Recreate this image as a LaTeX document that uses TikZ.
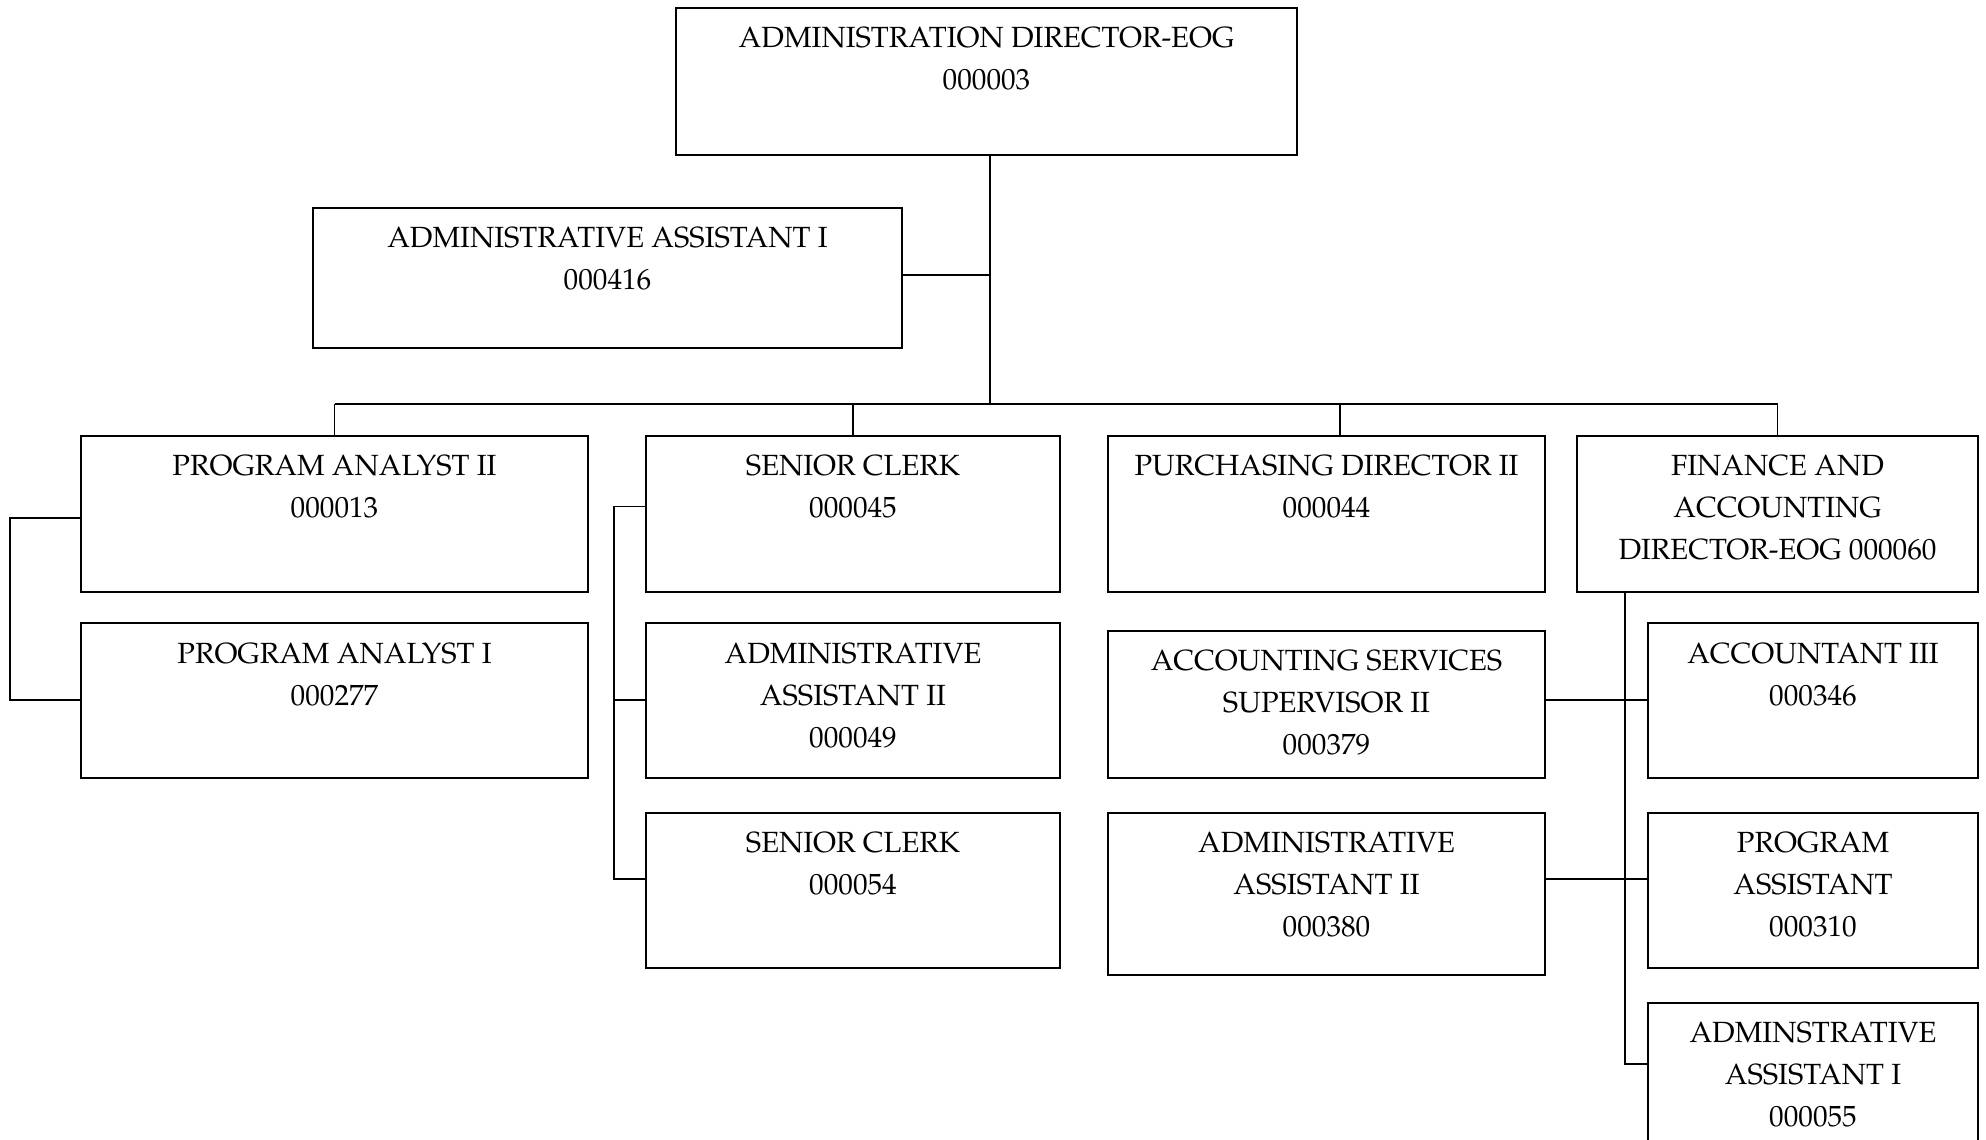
\documentclass[tikz,border=0pt]{standalone}
\usepackage[T1]{fontenc}
\usepackage{mathpazo}
\usetikzlibrary{fit,calc}

\tikzset{
  orgframe/.style={draw=black, line width=1pt, inner sep=0pt, fill=white},
  orgtext/.style={align=center, anchor=north, inner sep=0pt,
    font=\fontsize{14.6}{21}\selectfont},
  conn/.style={draw=black, line width=0.8pt},
}

% \orgbox{name}{x1}{y1}{x2}{y2}{text}: a framed box with its title set near the top
\newcommand{\orgbox}[6]{%
  \coordinate (#1-nw) at (#2,#3);
  \coordinate (#1-se) at (#4,#5);
  \node[orgframe, fit=(#1-nw)(#1-se)] (#1) {};
  \node[orgtext] (#1-t) at ($(#1.north)+(0,11)$) {\strut #6};
}

\begin{document}
\begin{tikzpicture}[x=0.5pt, y=-0.5pt]
  \path[fill=white] (0,0) rectangle (1986,1140);
  \useasboundingbox (0,0) rectangle (1986,1140);
  \clip (0,0) rectangle (1986,1140);

  % junction rows and rails
  \coordinate (bus)  at (990,404);
  \coordinate (rowa) at (0,700);
  \coordinate (rowb) at (0,879);
  \coordinate (rowc) at (0,1064);
  \coordinate (pa-r) at (10,518);
  \coordinate (sc-r) at (614,506.6);
  \coordinate (fin-r) at (1625,591.5);
  \coordinate (pd-drop) at (1340,404);

  % boxes
  \orgbox{dir}{676}{7.6}{1297}{154.5}{ADMINISTRATION DIRECTOR-EOG\\000003}
  \orgbox{aa1}{313}{207.7}{902}{348.3}{ADMINISTRATIVE ASSISTANT I\\000416}

  \orgbox{pa2}{81}{435.7}{588}{591.5}{PROGRAM ANALYST II\\000013}
  \orgbox{sc45}{646}{435.7}{1060}{591.5}{SENIOR CLERK\\000045}
  \orgbox{pd}{1108}{435.7}{1545}{591.5}{PURCHASING DIRECTOR II\\000044}
  \orgbox{fin}{1577}{435.7}{1978}{591.5}{FINANCE AND\\ACCOUNTING\\DIRECTOR-EOG 000060}

  \orgbox{pa1}{81}{623.2}{588}{777.7}{PROGRAM ANALYST I\\000277}
  \orgbox{aa49}{646}{623.2}{1060}{777.7}{ADMINISTRATIVE\\ASSISTANT II\\000049}
  \orgbox{sc54}{646}{813.1}{1060}{967.7}{SENIOR CLERK\\000054}

  \orgbox{acs}{1108}{630.8}{1545}{777.7}{ACCOUNTING SERVICES\\SUPERVISOR II\\000379}
  \orgbox{aa380}{1108}{813.1}{1545}{975.3}{ADMINISTRATIVE\\ASSISTANT II\\000380}

  \orgbox{acct}{1648}{623.2}{1978}{777.7}{ACCOUNTANT III\\000346}
  \orgbox{passt}{1648}{813.1}{1978}{967.7}{PROGRAM\\ASSISTANT\\000310}
  \orgbox{adm55}{1648}{1003}{1978}{1170}{ADMINSTRATIVE\\ASSISTANT I\\000055}

  % top level
  \draw[conn] (bus |- dir.south) -- (bus);
  \draw[conn] (aa1.east |- 0,275) -- (bus |- 0,275);
  \draw[conn] (pa2.north |- bus) -- (fin.north |- bus);
  \draw[conn] (pa2.north |- bus) -- (pa2.north);
  \draw[conn] (sc45.north |- bus) -- (sc45.north);
  \draw[conn] (pd-drop) -- (pd-drop |- pd.north);
  \draw[conn] (fin.north |- bus) -- (fin.north);

  % program analysts
  \draw[conn] (pa2.west |- pa-r) -- (pa-r) |- (pa1.west |- rowa);

  % senior clerk group
  \draw[conn] (sc45.west |- sc-r) -- (sc-r) |- (sc54.west |- rowb);
  \draw[conn] (aa49.west |- rowa) -- (sc-r |- rowa);

  % finance group
  \draw[conn] (fin.south -| fin-r) -- (fin-r |- rowc) -- (adm55.west |- rowc);
  \draw[conn] (acs.east |- rowa) -- (acct.west |- rowa);
  \draw[conn] (aa380.east |- rowb) -- (passt.west |- rowb);
\end{tikzpicture}
\end{document}
